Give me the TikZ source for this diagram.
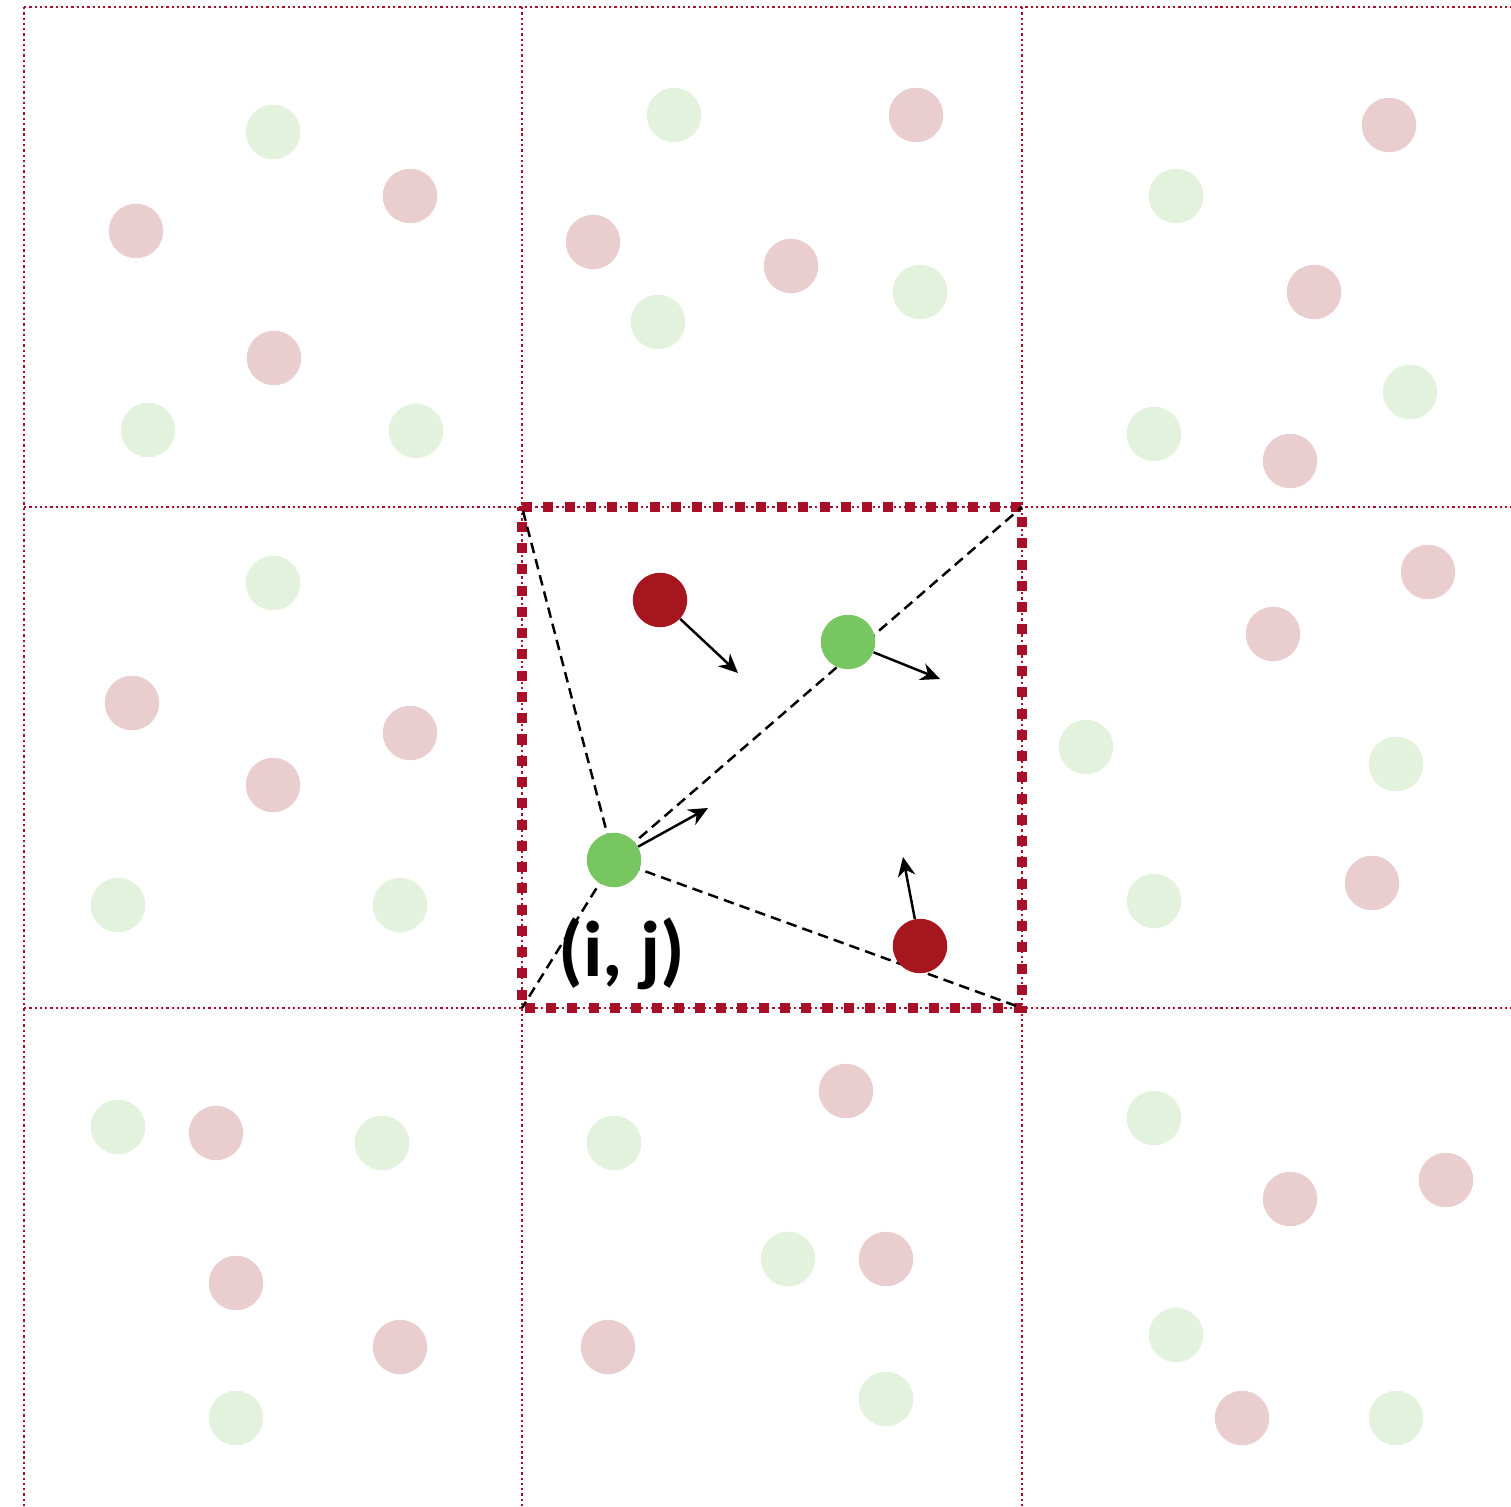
\documentclass[tikz,border=0pt]{standalone}
\usepackage{fontspec}
\setmainfont{Carlito}
\usetikzlibrary{arrows.meta}
\definecolor{gridred}{HTML}{A8102A}
\definecolor{pred}{HTML}{A6161F}
\definecolor{pgreen}{HTML}{77C661}
\definecolor{fred}{HTML}{EACDCF}
\definecolor{fgreen}{HTML}{E3F2DD}
\tikzset{
  gridline/.style={draw=gridred, line width=1.3pt, dash pattern=on 1.3pt off 1.7pt},
  cellbox/.style={draw=gridred, line width=5.7pt, dash pattern=on 5.7pt off 6.4pt},
  guide/.style={draw=black, line width=1.4pt, dash pattern=on 6pt off 3.5pt},
  force/.style={draw=black, line width=1.4pt, -{Stealth[length=11pt,width=10pt]}},
  part/.style={circle, minimum size=1.09cm, inner sep=0pt, draw=none},
  fr/.style={part, fill=fred},
  fg/.style={part, fill=fgreen},
  pr/.style={part, fill=pred},
  pg/.style={part, fill=pgreen},
  lab/.style={font=\bfseries\fontsize{45}{54}\selectfont, inner sep=0pt}
}
\begin{document}
\begin{tikzpicture}[x=0.02cm, y=-0.02cm]
\useasboundingbox (0,0) rectangle (1511,1507);
% faded particles
\foreach \x/\y/\s/\n in {
 273/132/fg/a1, 410/196/fr/a2, 136/231/fr/a3, 274/358/fr/a4, 148/430/fg/a5, 416/431/fg/a6,
 674/115/fg/b1, 916/115/fr/b2, 593/242/fr/b3, 791/266/fr/b4, 920/292/fg/b5, 658/322/fg/b6,
 1389/125/fr/c1, 1176/196/fg/c2, 1314/292/fr/c3, 1410/392/fg/c4, 1154/434/fg/c5, 1290/461/fr/c6,
 273/583/fg/d1, 132/703/fr/d2, 410/733/fr/d3, 273/785/fr/d4, 118/905/fg/d5, 400/905/fg/d6,
 1428/572/fr/e1, 1273/634/fr/e2, 1086/747/fg/e3, 1396/764/fg/e4, 1154/901/fg/e5, 1372/883/fr/e6,
 118/1127/fg/f1, 216/1133/fr/f2, 382/1143/fg/f3, 236/1283/fr/f4, 400/1347/fr/f5, 236/1418/fg/f6,
 846/1091/fr/g1, 614/1143/fg/g2, 788/1259/fg/g3, 886/1259/fr/g4, 608/1347/fr/g5, 886/1399/fg/g6,
 1154/1118/fg/h1, 1446/1180/fr/h2, 1290/1199/fr/h3, 1176/1335/fg/h4, 1242/1418/fr/h5, 1396/1418/fg/h6}
 {\node[\s] (\n) at (\x,\y) {};}
% central cell
\coordinate (TL) at (522,507);
\coordinate (TR) at (1022,507);
\coordinate (BR) at (1022,1008);
\coordinate (BL) at (522,1008);
\draw[cellbox] (TL) -- (TR) -- (BR) -- (BL) -- cycle;
% grid
\coordinate (v1t) at (24,7);   \coordinate (v1b) at (24,1507);
\coordinate (v2t) at (522,7);  \coordinate (v2b) at (522,1507);
\coordinate (v3t) at (1022,7); \coordinate (v3b) at (1022,1507);
\coordinate (h1l) at (24,7);   \coordinate (h1r) at (1511,7);
\coordinate (h2l) at (24,507); \coordinate (h2r) at (1511,507);
\coordinate (h3l) at (24,1008);\coordinate (h3r) at (1511,1008);
\draw[gridline] (v1t) -- (v1b);
\draw[gridline] (v2t) -- (v2b);
\draw[gridline] (v3t) -- (v3b);
\draw[gridline] (h1l) -- (h1r);
\draw[gridline] (h2l) -- (h2r);
\draw[gridline] (h3l) -- (h3r);
% guide lines
\coordinate (pc) at (614,860);
\draw[guide] (pc) -- (TL);
\draw[guide] (pc) -- (TR);
\draw[guide] (pc) -- (BR);
\draw[guide] (pc) -- (BL);
% active particles
\node[pr] (r1) at (660,600) {};
\node[pg] (g1) at (848,642) {};
\node[pg] (g2) at (pc) {};
\node[pr] (r2) at (920,946) {};
\coordinate (t1) at (738,673);
\coordinate (t2) at (940,679);
\coordinate (t3) at (708,808);
\coordinate (t4) at (903,857);
\draw[force] (r1) -- (t1);
\draw[force] (g1) -- (t2);
\draw[force] (g2) -- (t3);
\draw[force] (r2) -- (t4);
\node[lab] (ij) at (622,954) {(i, j)};
\end{tikzpicture}
\end{document}
